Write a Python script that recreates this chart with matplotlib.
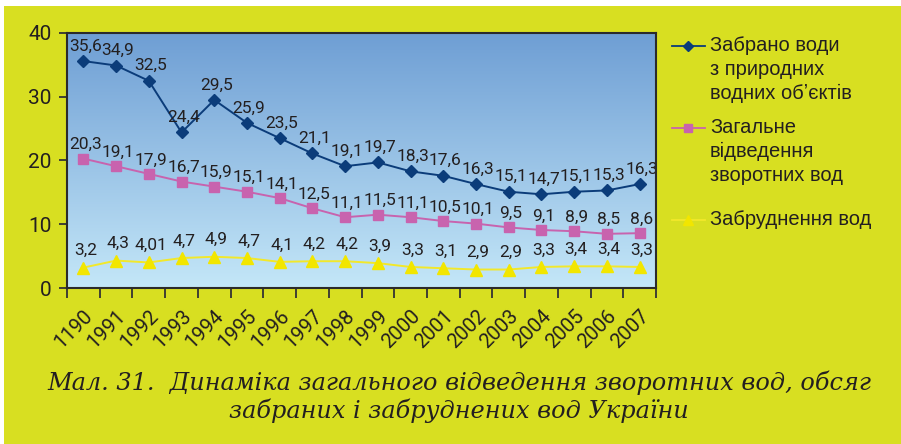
import numpy as np
import matplotlib
matplotlib.use("Agg")
import matplotlib.pyplot as plt
from matplotlib.lines import Line2D
from matplotlib.patches import Rectangle

years = ["1190", "1991", "1992", "1993", "1994", "1995", "1996", "1997", "1998",
         "1999", "2000", "2001", "2002", "2003", "2004", "2005", "2006", "2007"]

taken = [35.6, 34.9, 32.5, 24.4, 29.5, 25.9, 23.5, 21.1, 19.1,
         19.7, 18.3, 17.6, 16.3, 15.1, 14.7, 15.1, 15.3, 16.3]
taken_lbl = ["35,6", "34,9", "32,5", "24,4", "29,5", "25,9", "23,5", "21,1", "19,1",
             "19,7", "18,3", "17,6", "16,3", "15,1", "14,7", "15,1", "15,3", "16,3"]

returned = [20.3, 19.1, 17.9, 16.7, 15.9, 15.1, 14.1, 12.5, 11.1,
            11.5, 11.1, 10.5, 10.1, 9.5, 9.1, 8.9, 8.5, 8.6]
returned_lbl = ["20,3", "19,1", "17,9", "16,7", "15,9", "15,1", "14,1", "12,5", "11,1",
                "11,5", "11,1", "10,5", "10,1", "9,5", "9,1", "8,9", "8,5", "8,6"]

polluted = [3.2, 4.3, 4.01, 4.7, 4.9, 4.7, 4.1, 4.2, 4.2,
            3.9, 3.3, 3.1, 2.9, 2.9, 3.3, 3.4, 3.4, 3.3]
polluted_lbl = ["3,2", "4,3", "4,01", "4,7", "4,9", "4,7", "4,1", "4,2", "4,2",
                "3,9", "3,3", "3,1", "2,9", "2,9", "3,3", "3,4", "3,4", "3,3"]

legend_labels = ["Забрано води\nз природних\nводних об\u02bcєктів",
                 "Загальне\nвідведення\nзворотних вод",
                 "Забруднення вод"]

caption = ("Мал. 31.  Динаміка загального відведення зворотних вод, обсяг\n"
           "забраних і забруднених вод України")

BG = "#d8df21"
NARROW = ["DejaVu Sans Condensed", "Roboto", "DejaVu Sans"]
TXT = "#231f20"

W, H = 901, 444
fig = plt.figure(figsize=(W / 100, H / 100), dpi=100, facecolor="white")
fig.add_artist(Rectangle((4 / W, 0), 1, 1 - 6 / H, transform=fig.transFigure,
                         facecolor=BG, edgecolor="none", zorder=-10))

ax = fig.add_axes([67 / W, 1 - 288 / H, (656 - 67) / W, (288 - 33) / H])
ax.set_facecolor("none")

# vertical gradient inside the plot area
top = np.array([0x6e, 0x9e, 0xd4]) / 255
bot = np.array([0xc4, 0xe7, 0xf8]) / 255
t = np.linspace(0, 1, 256)[:, None]
grad = (top * (1 - t) + bot * t)[:, None, :]
ax.imshow(grad, extent=[0, 1, 0, 1], transform=ax.transAxes, aspect="auto",
          zorder=0, interpolation="bilinear")

x = np.arange(len(years))
series = [
    (taken, taken_lbl, "#0b3c7a", "#0b3c7a", "D", 6, 15),
    (returned, returned_lbl, "#c863ae", "#c863ae", "s", 7, 14),
    (polluted, polluted_lbl, "#f2e82a", "#f2e600", "^", 8, 17),
]
for vals, lbls, lc, mc, mk, ms, off in series:
    ax.plot(x, vals, color=lc, lw=1.4, marker=mk, ms=ms, mfc=mc, mec=mc, zorder=3)
    for xi, v, s in zip(x, vals, lbls):
        ax.annotate(s, (xi, v), xytext=(2, off), textcoords="offset pixels",
                    ha="center", va="center", fontsize=12.5, family=NARROW,
                    stretch="condensed", color=TXT, zorder=4)

ax.set_xlim(-0.5, len(years) - 0.5)
ax.set_ylim(0, 40)
ax.set_yticks([0, 10, 20, 30, 40])
ax.set_xticks(np.arange(len(years) + 1) - 0.5, minor=False)
ax.set_xticklabels([])
ax.set_xticks(x, minor=True)
ax.set_xticklabels(years, minor=True, rotation=45, ha="right", va="top",
                   rotation_mode="anchor", fontsize=14.5, family=NARROW,
                   stretch="condensed", color=TXT)
ax.tick_params(axis="x", which="minor", length=0, pad=13)
ax.tick_params(axis="x", which="major", length=7, width=1.3, color="#333333")
ax.tick_params(axis="y", length=6, width=1.3, color="#333333", pad=5,
               labelsize=15)
for lab in ax.get_yticklabels():
    lab.set_family(NARROW)
    lab.set_stretch("condensed")
    lab.set_color(TXT)
for sp in ax.spines.values():
    sp.set_color("#2b2b2b")
    sp.set_linewidth(1.5)
    sp.set_zorder(5)

# legend drawn at fixed positions on the right
leg_y = [46, 128, 220]
for (vals, lbls, lc, mc, mk, ms, off), lab, yy in zip(series, legend_labels, leg_y):
    yf = 1 - yy / H
    fig.add_artist(Line2D([672 / W, 688 / W, 705 / W], [yf, yf, yf],
                          transform=fig.transFigure, color=lc, lw=1.3,
                          marker=mk, ms=ms - 1, mfc=mc, mec=mc, markevery=[1]))
    fig.text(710 / W, yf + 10 / H, lab, ha="left", va="top", fontsize=14.5,
             family=["Liberation Sans", "DejaVu Sans"], color=TXT,
             linespacing=1.34)

fig.text(459 / W, 1 - 397 / H, caption, ha="center", va="center",
         fontsize=17.3, family=["DejaVu Serif"], style="italic", color=TXT,
         linespacing=1.16)

fig.savefig("out.png", dpi=100, facecolor="white")
